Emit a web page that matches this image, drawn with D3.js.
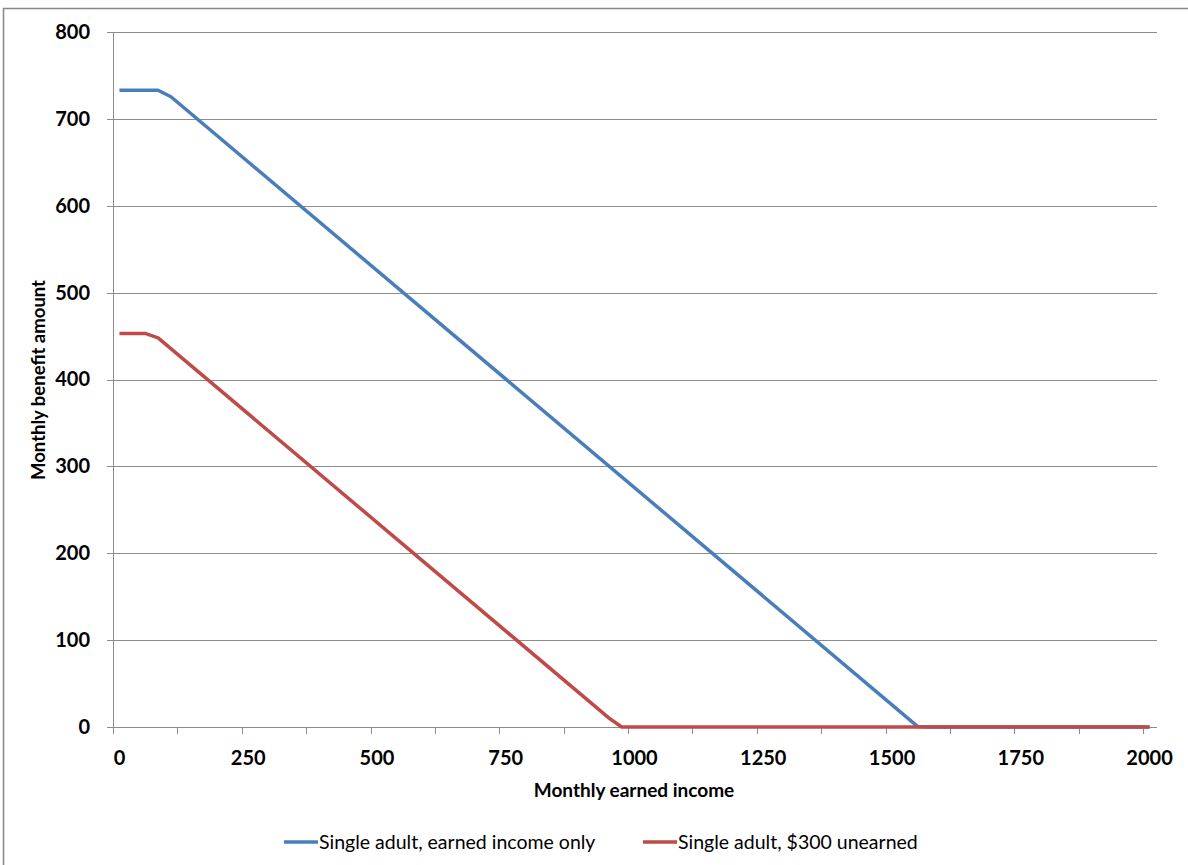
<!DOCTYPE html>
<html>
<head>
<meta charset="utf-8">
<script src="https://cdn.jsdelivr.net/npm/d3@7"></script>
<style>
  body { margin: 0; background: #fff; }
  svg { display: block; }
</style>
</head>
<body>
<div id="chart"></div>
<script>
// Categories on the x axis (monthly earned income, $25 steps)
const incomeCats = d3.range(0, 2001, 25);
const xLabelValues = [0, 250, 500, 750, 1000, 1250, 1500, 1750, 2000];
const yTickValues = [0, 100, 200, 300, 400, 500, 600, 700, 800];

// Break points of each series (income, benefit)
const earnedOnlyIncome = [0, 75, 100, 1550, 1575, 2000];
const earnedOnlyBenefit = [733, 733, 725.5, 0.5, 0, 0];
const unearnedIncome = [0, 50, 75, 950, 975, 2000];
const unearnedBenefit = [453, 453, 448, 10.5, 0, 0];

const seriesNames = ["Single adult, earned income only", "Single adult, $300 unearned"];
const seriesColors = ["#4A7EBB", "#BE4B48"];

const W = 1188, H = 865;
const plot = { left: 113, right: 1156, top: 32, bottom: 727 };

const svg = d3.select("#chart").append("svg")
  .attr("width", W)
  .attr("height", H);

// chart border
svg.append("rect")
  .attr("x", 3.5).attr("y", 8.5)
  .attr("width", W + 10).attr("height", H + 10)
  .attr("fill", "none")
  .attr("stroke", "#868686")
  .attr("stroke-width", 1.5);

const x = d3.scaleBand().domain(incomeCats).range([plot.left, plot.right]);
const xc = d => x(d) + x.bandwidth() / 2;
const y = d3.scaleLinear().domain([0, 800]).range([plot.bottom, plot.top]);

// horizontal gridlines
svg.append("g")
  .selectAll("line")
  .data(yTickValues)
  .enter().append("line")
  .attr("x1", plot.left - 6)
  .attr("x2", plot.right + 1)
  .attr("y1", d => Math.round(y(d)) + 0.5)
  .attr("y2", d => Math.round(y(d)) + 0.5)
  .style("stroke", "#8c8c8c")
  .style("stroke-width", "1px");

// y axis line
svg.append("line")
  .attr("x1", plot.left + 0.5).attr("x2", plot.left + 0.5)
  .attr("y1", plot.top).attr("y2", plot.bottom + 7)
  .style("stroke", "#8c8c8c");

// x tick marks at category boundaries
svg.append("g")
  .selectAll("line")
  .data(incomeCats.filter((d, i) => i % 5 === 0))
  .enter().append("line")
  .attr("x1", d => Math.round(x(d)) + 0.5)
  .attr("x2", d => Math.round(x(d)) + 0.5)
  .attr("y1", plot.bottom)
  .attr("y2", plot.bottom + 7)
  .style("stroke", "#8c8c8c");

// y tick labels
const yAxis = svg.append("g")
  .attr("transform", "translate(" + (plot.left - 23) + ",0)")
  .call(d3.axisLeft(y).tickValues(yTickValues).tickSize(0).tickPadding(0));
yAxis.select(".domain").remove();
yAxis.selectAll("text")
  .style("font-family", "Lato, sans-serif")
  .style("font-weight", "bold")
  .style("font-size", "20px")
  .attr("fill", "#000");

// x tick labels
const xAxis = svg.append("g")
  .attr("transform", "translate(0," + plot.bottom + ")")
  .call(d3.axisBottom(x).tickValues(xLabelValues).tickSize(0).tickPadding(24));
xAxis.select(".domain").remove();
xAxis.selectAll("text")
  .style("font-family", "Lato, sans-serif")
  .style("font-weight", "bold")
  .style("font-size", "20px")
  .attr("fill", "#000");

// axis titles
svg.append("text")
  .attr("x", 634)
  .attr("y", 797)
  .attr("text-anchor", "middle")
  .style("font-family", "Lato, sans-serif")
  .style("font-weight", "bold")
  .style("font-size", "19px")
  .text("Monthly earned income");

svg.append("text")
  .attr("transform", "translate(45,380) rotate(-90)")
  .attr("text-anchor", "middle")
  .style("font-family", "Lato, sans-serif")
  .style("font-weight", "bold")
  .style("font-size", "18.5px")
  .text("Monthly benefit amount");

// series lines
const line = d3.line()
  .x(d => xc(d[0]))
  .y(d => y(d[1]));

const series = [
  d3.zip(earnedOnlyIncome, earnedOnlyBenefit),
  d3.zip(unearnedIncome, unearnedBenefit)
];

svg.append("g")
  .selectAll("path")
  .data(series)
  .enter().append("path")
  .attr("d", d => line(d))
  .style("fill", "none")
  .style("stroke", (d, i) => seriesColors[i])
  .style("stroke-width", "3.5px")
  .style("stroke-linejoin", "round");

// legend
const legendX = [284, 643];
const legend = svg.append("g")
  .selectAll("g")
  .data(seriesNames)
  .enter().append("g")
  .attr("transform", (d, i) => "translate(" + legendX[i] + ",842)");
legend.append("line")
  .attr("x1", 0).attr("x2", 34)
  .attr("y1", 0).attr("y2", 0)
  .style("stroke", (d, i) => seriesColors[i])
  .style("stroke-width", "3.5px");
legend.append("text")
  .attr("x", 35)
  .attr("dy", "0.35em")
  .style("font-family", "Lato, sans-serif")
  .style("font-size", "19.5px")
  .text(d => d);
</script>
</body>
</html>
